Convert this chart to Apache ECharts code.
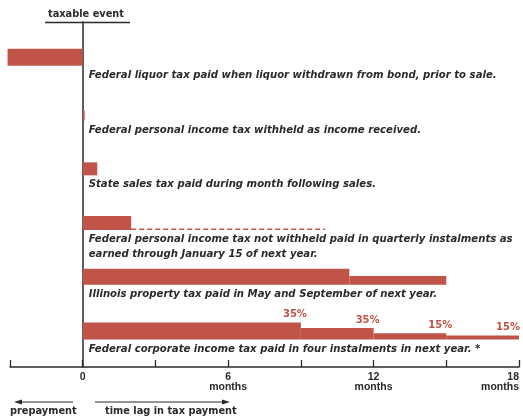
<!DOCTYPE html>
<html>
<head>
<meta charset="utf-8">
<script src="https://cdn.jsdelivr.net/npm/echarts@6/dist/echarts.min.js"></script>
<style>
html,body{margin:0;padding:0;background:#fff;}
#c{width:523px;height:419px;}
</style>
</head>
<body>
<div id="c"></div>
<script>
// ---- data ----
const rowLabels = [
  "Federal liquor tax paid when liquor withdrawn from bond, prior to sale.",
  "Federal personal income tax withheld as income received.",
  "State sales tax paid during month following sales.",
  "Federal personal income tax not withheld paid in quarterly instalments as\nearned through January 15 of next year.",
  "Illinois property tax paid in May and September of next year.",
  "Federal corporate income tax paid in four instalments in next year. *"
];
// month at which the tax liability starts (relative to taxable event)
const lagStart = [-3.1, 0, 0, 0, 0, 0];
// months at which each instalment is paid
const instalmentMonths = [[0], [0.08], [0.6], [2], [11, 15], [9, 12, 15, 18]];
// share of tax paid at each instalment (%)
const instalmentShares = [[100], [100], [100], [100], [50, 50], [35, 35, 15, 15]];
// instalment labels shown on the chart
const instalmentLabels = [[], [], [], [], [], ["35%", "35%", "15%", "15%"]];
// dashed extension of payment period (months)
const dashedEnd = [null, null, null, 10, null, null];
// axis ticks
const tickLabels = {"0": "0", "6": "6\nmonths", "12": "12\nmonths", "18": "18\nmonths"};

// ---- styles ----
const RED = '#c05448';
const INK = '#2a2a2a';
const rowThickness = [17, 10, 13, 14, 16, 17];
const LABEL_FONT = 'italic bold 10.15px "DejaVu Sans", sans-serif';
const NOTE_FONT = 'bold 9.8px "DejaVu Sans", sans-serif';

const chart = echarts.init(document.getElementById('c'), null, {renderer: 'canvas'});

function renderItem(params, api) {
  const r = params.dataIndex;
  const rowVal = api.value(0);
  const origin = api.coord([0, rowVal]);
  const base = origin[1];
  const full = rowThickness[r];
  const children = [];
  let prev = lagStart[r];
  let remaining = 100;
  let lastX = origin[0];
  const months = instalmentMonths[r];
  for (let i = 0; i < months.length; i++) {
    const x0 = api.coord([prev, rowVal])[0];
    const x1 = api.coord([months[i], rowVal])[0];
    const h = full * (0.1 + 0.9 * remaining / 100);
    children.push({
      type: 'rect',
      shape: {x: Math.min(x0, x1), y: base - h, width: Math.max(Math.abs(x1 - x0), 1.5), height: h},
      style: {fill: RED}
    });
    const lbl = instalmentLabels[r][i];
    if (lbl) {
      const tx = Math.min(x1 + 6, params.coordSys.x + params.coordSys.width + 1);
      children.push({
        type: 'text',
        style: {
          x: tx, y: base - h - 3, text: lbl,
          fill: RED, font: 'bold 10px "DejaVu Sans", sans-serif',
          align: 'right', verticalAlign: 'bottom'
        }
      });
    }
    remaining -= instalmentShares[r][i];
    prev = months[i];
    lastX = x1;
  }
  if (dashedEnd[r] != null) {
    const xd = api.coord([dashedEnd[r], rowVal])[0];
    children.push({
      type: 'line',
      shape: {x1: lastX, y1: base - 0.8, x2: xd, y2: base - 0.8},
      style: {stroke: RED, lineWidth: 1.6, lineDash: [5, 3]}
    });
  }
  children.push({
    type: 'text',
    style: {
      x: origin[0] + 6, y: base + 2, text: rowLabels[r],
      fill: INK, font: LABEL_FONT,
      lineHeight: 15, align: 'left', verticalAlign: 'top'
    }
  });
  return {type: 'group', children: children};
}

const option = {
  animation: false,
  backgroundColor: '#ffffff',
  grid: {left: 10, right: 4, top: 22, bottom: 52, containLabel: false, outerBoundsMode: 'none'},
  xAxis: {
    type: 'value', min: -3, max: 18, interval: 3,
    axisLine: {show: true, onZero: false, lineStyle: {color: INK, width: 1.5}},
    axisTick: {show: true, inside: true, length: 7, lineStyle: {color: INK, width: 1.3}},
    splitLine: {show: false},
    axisLabel: {
      margin: 5, color: INK, fontSize: 10.5, fontWeight: 'bold', lineHeight: 10,
      fontFamily: '"Liberation Sans", sans-serif',
      alignMaxLabel: 'right',
      formatter: v => tickLabels[String(v)] || ''
    }
  },
  yAxis: {
    type: 'value', min: 0.2, max: 6.5, inverse: true,
    axisLine: {show: true, onZero: true, lineStyle: {color: INK, width: 1.5}},
    axisTick: {show: false}, axisLabel: {show: false}, splitLine: {show: false}
  },
  series: [{
    type: 'custom',
    renderItem: renderItem,
    data: rowLabels.map((_, i) => [i + 1]),
    encode: {y: 0},
    clip: false
  }],
  graphic: [
    {type: 'text', left: 48, top: 9, style: {text: 'taxable event', fill: INK, font: NOTE_FONT}},
    {type: 'line', shape: {x1: 45, y1: 22.5, x2: 130, y2: 22.5}, style: {stroke: INK, lineWidth: 1.5}},
    {type: 'line', shape: {x1: 18, y1: 402, x2: 73, y2: 402}, style: {stroke: INK, lineWidth: 1}},
    {type: 'polygon', shape: {points: [[14, 402], [22, 399.5], [22, 404.5]]}, style: {fill: INK}},
    {type: 'line', shape: {x1: 95, y1: 402, x2: 226, y2: 402}, style: {stroke: INK, lineWidth: 1}},
    {type: 'polygon', shape: {points: [[230, 402], [222, 399.5], [222, 404.5]]}, style: {fill: INK}},
    {type: 'text', left: 10, top: 406, style: {text: 'prepayment', fill: INK, font: NOTE_FONT}},
    {type: 'text', left: 105, top: 406, style: {text: 'time lag in tax payment', fill: INK, font: NOTE_FONT}}
  ]
};
chart.setOption(option);
</script>
</body>
</html>
